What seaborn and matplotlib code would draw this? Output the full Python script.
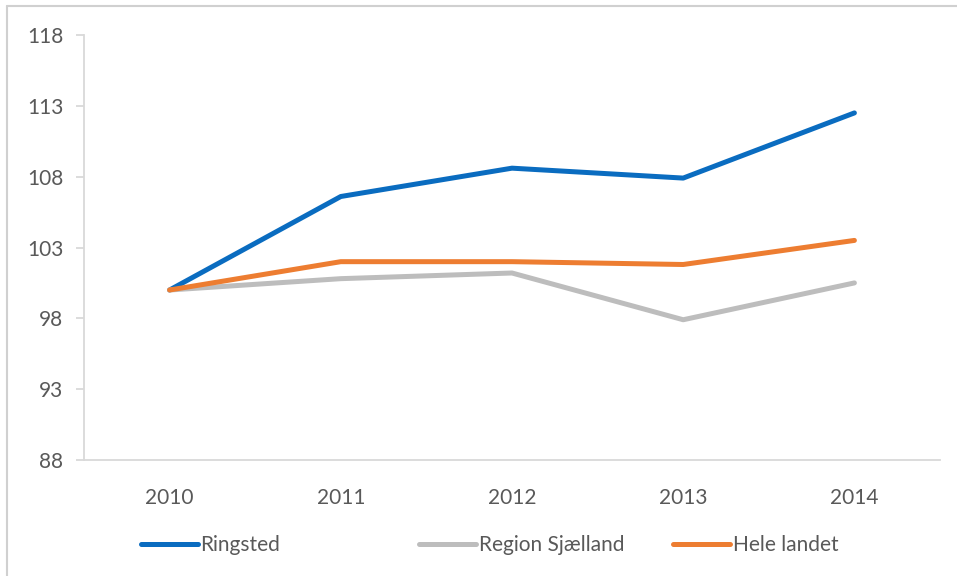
import pandas as pd
import matplotlib.pyplot as plt
import seaborn as sns
from matplotlib.lines import Line2D

## Data
aar = [2010, 2011, 2012, 2013, 2014]
ringsted = [100.0, 106.6, 108.6, 107.9, 112.5]
region_sjaelland = [100.0, 100.8, 101.2, 97.9, 100.5]
hele_landet = [100.0, 102.0, 102.0, 101.8, 103.5]

serier = ['Ringsted', 'Region Sjælland', 'Hele landet']
farver = ['#0a6cc0', '#bdbdbd', '#ed7d31']

df = pd.DataFrame({'aar': aar * 3,
                   'indeks': ringsted + region_sjaelland + hele_landet,
                   'serie': [s for s in serier for _ in aar]})

sns.set_style('white')
plt.rcParams['font.family'] = ['Lato', 'DejaVu Sans']

fig = plt.figure(figsize=(9.57, 5.76), dpi=100)
ax = fig.add_axes([84 / 957, 1 - 460 / 576, 856 / 957, 425 / 576])

sns.lineplot(data=df, x='aar', y='indeks', hue='serie', palette=farver,
             hue_order=serier, linewidth=3.6, ax=ax, legend=False)
for ln in ax.lines:
    ln.set_solid_capstyle('round')
    ln.set_solid_joinstyle('round')

ax.set_xlim(2009.5, 2014.5)
ax.set_ylim(88, 118)
ax.set_xticks(aar)
ax.set_yticks([88, 93, 98, 103, 108, 113, 118])
ax.set_xlabel('')
ax.set_ylabel('')

## Eixos no estilo Excel
for side in ['top', 'right']:
    ax.spines[side].set_visible(False)
for side in ['left', 'bottom']:
    ax.spines[side].set_color('#d9d9d9')
    ax.spines[side].set_linewidth(1.3)
ax.tick_params(axis='y', length=6, width=1.3, color='#d9d9d9', pad=9,
               labelsize=15, labelcolor='#595959', left=True)
ax.tick_params(axis='x', length=0, pad=20, labelsize=15, labelcolor='#595959')

## Legenda - uma entrada por vez, posicionada como no original
leg_x = [140, 418, 672]
for nome, cor, x in zip(serier, farver, leg_x):
    h = Line2D([], [], color=cor, linewidth=3.6, solid_capstyle='round')
    fig.legend([h], [nome], loc='center left', frameon=False,
               bbox_to_anchor=((x - 17.5) / 957, 1 - 545 / 576),
               handlelength=2.7, handletextpad=0.15, fontsize=15,
               labelcolor='#595959')

## Moldura do gráfico
fig.add_artist(Line2D([7 / 957, 7 / 957], [0, 1 - 6 / 576], color='#d0d0d0', lw=1.5))
fig.add_artist(Line2D([7 / 957, 1], [1 - 6 / 576, 1 - 6 / 576], color='#d0d0d0', lw=1.5))

fig.savefig('out.png', dpi=100)
